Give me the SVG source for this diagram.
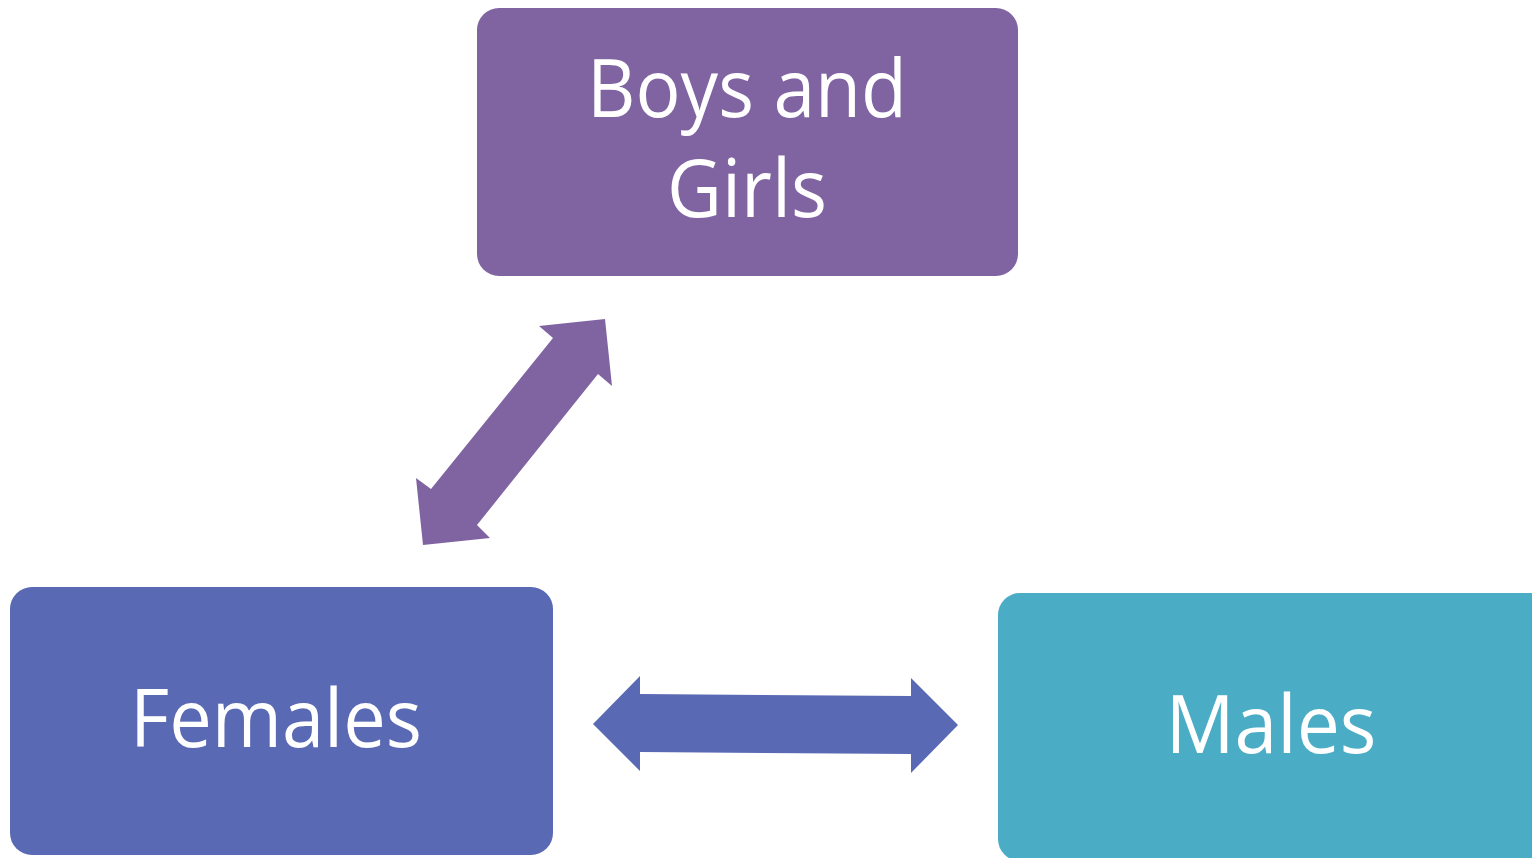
<svg xmlns="http://www.w3.org/2000/svg" width="1532" height="858" viewBox="0 0 1532 858">
<style>
.lbl{font-family:"Open Sans","Liberation Sans",sans-serif;font-size:80px;fill:#ffffff;text-anchor:middle}
</style>
<rect width="1532" height="858" fill="#ffffff"/>
<g id="boys-girls">
<rect x="477" y="8" width="541" height="268" rx="22" fill="#8064A2"/>
<text class="lbl" x="747" y="117" textLength="320" lengthAdjust="spacingAndGlyphs">Boys and</text>
<text class="lbl" x="747" y="217" textLength="160" lengthAdjust="spacingAndGlyphs">Girls</text>
</g>
<g id="females">
<rect x="10" y="587" width="543" height="268" rx="22" fill="#5A69B4"/>
<text class="lbl" x="276" y="747" textLength="292" lengthAdjust="spacingAndGlyphs">Females</text>
</g>
<g id="males">
<rect x="998" y="593" width="560" height="268" rx="22" fill="#4BACC6"/>
<text class="lbl" x="1271" y="753" textLength="211" lengthAdjust="spacingAndGlyphs">Males</text>
</g>
<g id="connectors">
<polygon points="539,326 605,319 612,386 598,374 477,525 490,538 423,545 416,478 431,489 553,338" fill="#8064A2"/>
<polygon points="593,724 640,676 640,694 911,696 911,678 958,725 911,773 911,754 640,752 640,771" fill="#5A69B4"/>
</g>
</svg>
